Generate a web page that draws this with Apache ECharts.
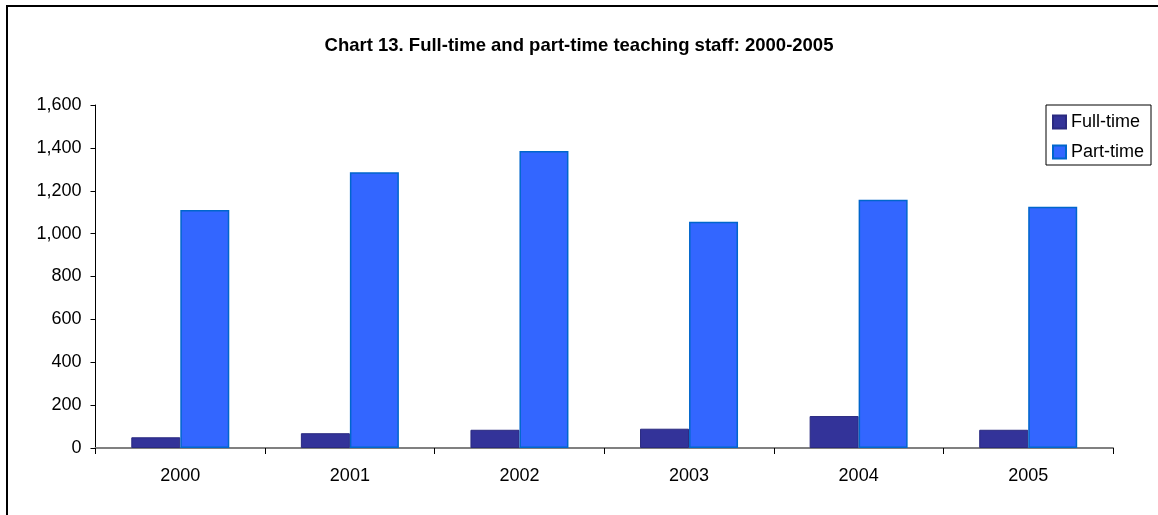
<!DOCTYPE html>
<html>
<head>
<meta charset="utf-8">
<script src="https://cdn.jsdelivr.net/npm/echarts@6/dist/echarts.min.js"></script>
<style>
html,body{margin:0;padding:0;background:#fff;}
#chart{width:1158px;height:515px;}
</style>
</head>
<body>
<div id="chart"></div>
<script>
const categories = ['2000', '2001', '2002', '2003', '2004', '2005'];
const fullTime = [50, 69, 85, 90, 149, 85];
const partTime = [1110, 1286, 1385, 1055, 1158, 1125];
const titleText = 'Chart 13. Full-time and part-time teaching staff: 2000-2005';
const FONT = '"Liberation Sans", Arial, sans-serif';

const chart = echarts.init(document.getElementById('chart'));
chart.setOption({
  animation: false,
  backgroundColor: '#fff',
  textStyle: { fontFamily: FONT },
  title: {
    text: titleText,
    left: 'center',
    top: 31,
    textStyle: { fontFamily: FONT, fontSize: 18.5, fontWeight: 'bold', color: '#000' }
  },
  graphic: [{
    type: 'rect',
    shape: { x: 7, y: 6, width: 1400, height: 800 },
    style: { fill: 'none', stroke: '#000', lineWidth: 2 },
    silent: true
  }],
  legend: {
    orient: 'vertical',
    left: 1046,
    top: 105,
    padding: [8, 7, 4, 6],
    itemGap: 12,
    itemWidth: 13,
    itemHeight: 13,
    icon: 'rect',
    borderColor: '#000',
    borderWidth: 1,
    textStyle: { fontFamily: FONT, fontSize: 18, color: '#000' },
    data: ['Full-time', 'Part-time']
  },
  grid: { left: 95.5, right: 45, top: 105, bottom: 67, containLabel: false },
  xAxis: {
    type: 'category',
    data: categories,
    axisLine: { lineStyle: { color: '#808080', width: 2 } },
    axisTick: { show: true, length: 6, lineStyle: { color: '#000', width: 1 } },
    axisLabel: { fontFamily: FONT, fontSize: 18, color: '#000', margin: 19 },
    splitLine: { show: false }
  },
  yAxis: {
    type: 'value',
    min: 0,
    max: 1600,
    interval: 200,
    axisLine: { show: true, lineStyle: { color: '#000', width: 1 } },
    axisTick: { show: true, length: 5, lineStyle: { color: '#000' } },
    axisLabel: {
      fontFamily: FONT, fontSize: 18, color: '#000', margin: 14,
      formatter: v => v.toLocaleString('en-US')
    },
    splitLine: { show: false }
  },
  series: [
    {
      name: 'Full-time',
      type: 'bar',
      data: fullTime,
      barWidth: 49,
      barGap: '0%',
      itemStyle: { color: '#333399', borderColor: '#2a2a80', borderWidth: 1 }
    },
    {
      name: 'Part-time',
      type: 'bar',
      data: partTime,
      barWidth: 49,
      barGap: '0%',
      itemStyle: { color: '#3366FF', borderColor: '#0066CC', borderWidth: 1.5 }
    }
  ]
});
</script>
</body>
</html>
